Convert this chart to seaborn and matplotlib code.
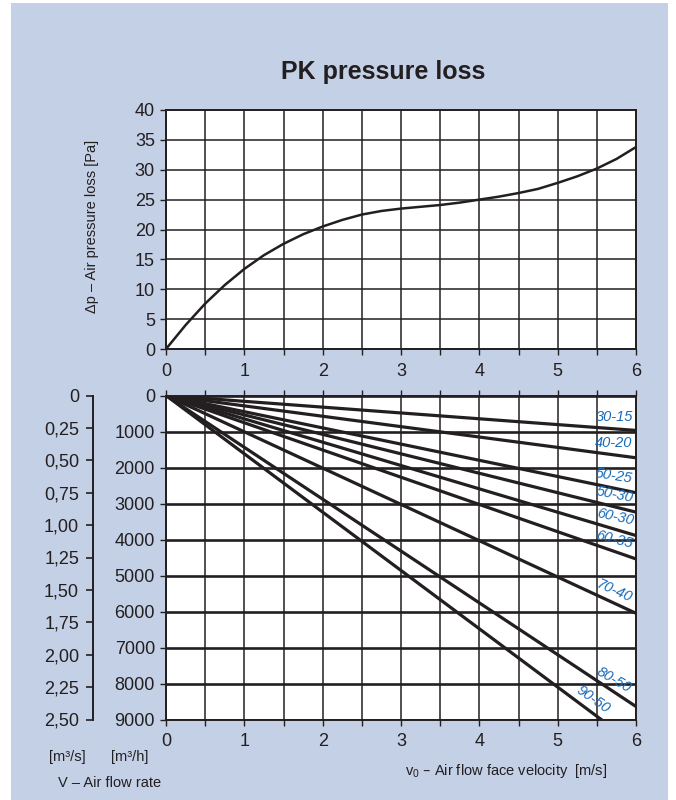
import numpy as np
import pandas as pd
import matplotlib
matplotlib.use('Agg')
import matplotlib.pyplot as plt
import seaborn as sns
from matplotlib.patches import Rectangle
from matplotlib.ticker import MultipleLocator

# Pressure loss curve
velocity = [0, 0.25, 0.5, 0.75, 1.0, 1.25, 1.5, 1.75, 2.0, 2.25, 2.5, 2.75, 3.0,
            3.25, 3.5, 3.75, 4.0, 4.25, 4.5, 4.75, 5.0, 5.25, 5.5, 5.75, 6.0]
pressure_loss = [0, 4.0, 7.6, 10.7, 13.4, 15.7, 17.6, 19.2, 20.5, 21.6, 22.5, 23.1, 23.5,
                 23.8, 24.1, 24.5, 25.0, 25.5, 26.1, 26.8, 27.8, 28.9, 30.2, 31.8, 33.8]

# Duct sizes and air flow rate [m3/h] at 6 m/s
sizes = ['30-15', '40-20', '50-25', '50-30', '60-30', '60-35', '70-40', '80-50', '90-50']
flow_at_6 = [970, 1730, 2700, 3240, 3890, 4540, 6050, 8640, 9720]

# Axis ticks
flow_h_ticks = [0, 1000, 2000, 3000, 4000, 5000, 6000, 7000, 8000, 9000]
flow_s_ticks = [0, 0.25, 0.5, 0.75, 1.0, 1.25, 1.5, 1.75, 2.0, 2.25, 2.5]
flow_s_labels = ['0', '0,25', '0,50', '0,75', '1,00', '1,25', '1,50', '1,75', '2,00', '2,25', '2,50']

# label layout along lines (velocity where label sits, rotation)
label_at = [5.72, 5.72, 5.71, 5.73, 5.73, 5.72, 5.72, 5.72, 5.42]
label_rot = [0, 0, -9, -11, -12, -14, -24, -30, -35]

sns.set_style('ticks')
plt.rcParams['font.family'] = ['Liberation Sans', 'DejaVu Sans']

INK = '#231f20'
BG = '#c4d0e6'
BLUE = '#1a6cb8'
W, H = 676, 800

fig = plt.figure(figsize=(6.76, 8.0), dpi=100)
fig.patch.set_facecolor('white')
fig.patches.append(Rectangle((11 / W, 0), (668 - 11) / W, 797 / H,
                             transform=fig.transFigure, facecolor=BG,
                             edgecolor='none', zorder=-10))


def fax(left, top, right, bottom):
    return [left / W, 1 - bottom / H, (right - left) / W, (bottom - top) / H]


# ---- top chart: pressure loss ----
ax1 = fig.add_axes(fax(166, 110, 636, 349))
sns.lineplot(x=velocity, y=pressure_loss, ax=ax1, color=INK, lw=1.8)
ax1.set_xlim(0, 6)
ax1.set_ylim(0, 40)
ax1.xaxis.set_major_locator(MultipleLocator(1))
ax1.xaxis.set_minor_locator(MultipleLocator(0.5))
ax1.yaxis.set_major_locator(MultipleLocator(5))
ax1.grid(True, which='both', axis='x', color=INK, lw=1.1)
ax1.grid(True, which='major', axis='y', color=INK, lw=1.1)
ax1.tick_params(axis='both', which='both', direction='out', length=4, width=1,
                color=INK, labelsize=13, labelcolor=INK, pad=4)
ax1.tick_params(axis='x', which='both', bottom=True, pad=6)
ax1.tick_params(axis='y', which='both', left=True)
ax1.set_xlabel('')
ax1.set_ylabel('')
for s in ax1.spines.values():
    s.set_visible(True)
    s.set_color(INK)
    s.set_linewidth(1.4)
ax1.set_facecolor('white')
fig.text(92 / W, 1 - 226 / H, 'Δp – Air pressure loss [Pa]', rotation=90,
         ha='center', va='center', fontsize=10.5, color=INK)

# ---- bottom chart: air flow rate ----
ax2 = fig.add_axes(fax(166, 395.5, 636, 719.5))
for name, q in zip(sizes, flow_at_6):
    sns.lineplot(x=[0, 6], y=[0, q], ax=ax2, color=INK, lw=2.3)
ax2.set_xlim(0, 6)
ax2.set_ylim(9000, 0)
ax2.xaxis.set_major_locator(MultipleLocator(1))
ax2.xaxis.set_minor_locator(MultipleLocator(0.5))
ax2.set_yticks(flow_h_ticks)
ax2.set_yticklabels([str(t) for t in flow_h_ticks])
ax2.grid(True, which='both', axis='x', color=INK, lw=1.1)
ax2.grid(True, which='major', axis='y', color=INK, lw=1.9)
ax2.tick_params(axis='both', which='both', direction='out', length=4, width=1,
                color=INK, labelsize=13, labelcolor=INK, pad=4)
ax2.tick_params(axis='x', which='both', bottom=True, top=True, pad=6)
ax2.tick_params(axis='y', which='both', left=True)
ax2.set_xlabel('')
ax2.set_ylabel('')
for s in ax2.spines.values():
    s.set_visible(True)
    s.set_color(INK)
    s.set_linewidth(1.4)
ax2.set_facecolor('white')

# labels on lines
for name, q, v, rot in zip(sizes, flow_at_6, label_at, label_rot):
    ax2.annotate(name, xy=(v, q / 6 * v), xytext=(3 if name == '90-50' else 0, 12),
                 textcoords='offset pixels', ha='center', va='center',
                 rotation=rot, fontsize=10.5, style='italic', color=BLUE)

# ---- secondary flow axis [m3/s] ----
ax3 = fig.add_axes(fax(93, 395.5, 94, 719.5))
ax3.set_ylim(2.5, 0)
ax3.set_yticks(flow_s_ticks)
ax3.set_yticklabels(flow_s_labels)
ax3.set_xticks([])
for side in ['top', 'right', 'bottom']:
    ax3.spines[side].set_visible(False)
ax3.spines['left'].set_color(INK)
ax3.spines['left'].set_linewidth(1.4)
ax3.patch.set_visible(False)
ax3.tick_params(axis='y', left=True, direction='out', length=5, width=1.2, color=INK,
                labelsize=13, labelcolor=INK, pad=5)

# ---- texts ----
fig.text(383 / W, 1 - 72 / H, 'PK pressure loss', ha='center', va='center',
         fontsize=18, fontweight='bold', color=INK)
fig.text(67 / W, 1 - 757 / H, '[m³/s]', ha='center', va='center', fontsize=10.5, color=INK)
fig.text(130 / W, 1 - 757 / H, '[m³/h]', ha='center', va='center', fontsize=10.5, color=INK)
fig.text(110 / W, 1 - 783 / H, 'V – Air flow rate', ha='center', va='center',
         fontsize=10.5, color=INK)
fig.text(506 / W, 1 - 771 / H, r'v$_\mathregular{0}$ – Air flow face velocity  [m/s]',
         ha='center', va='center', fontsize=10.5, color=INK)

fig.savefig('out.png', dpi=100)
